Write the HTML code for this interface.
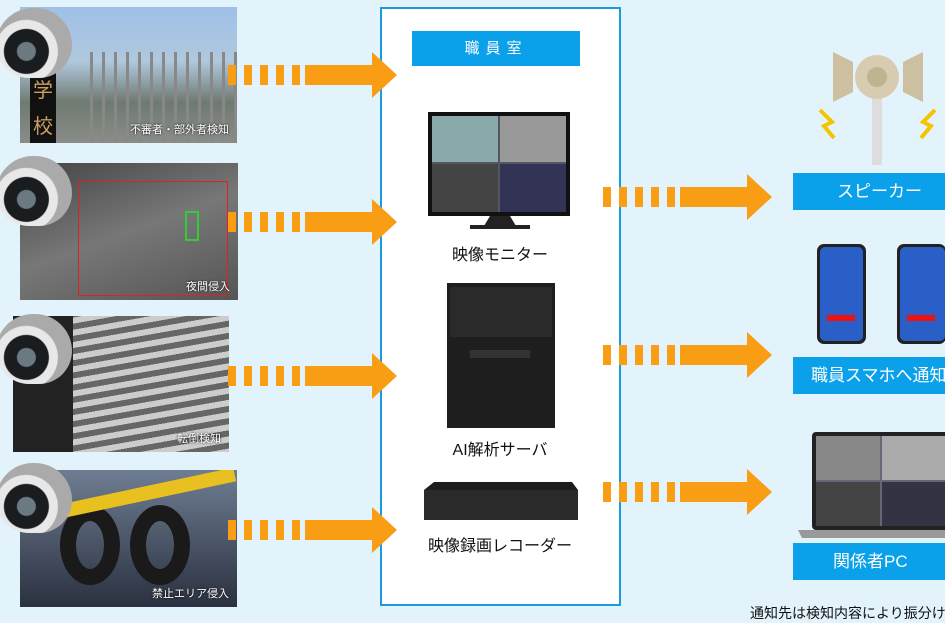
<!DOCTYPE html>
<html><head><meta charset="utf-8"><style>
*{margin:0;padding:0;box-sizing:border-box}
body{width:945px;height:612px;overflow:hidden;background:#e3f3fb;position:relative;font-family:"Liberation Sans","Noto Sans CJK JP",sans-serif}
.a{position:absolute}
.photo{position:absolute;overflow:hidden}
.cap{position:absolute;right:8px;bottom:6px;color:#fff;font-size:11px;text-shadow:0 0 2px #000}
.cam{position:absolute;width:76px;height:70px;border-radius:38px 38px 34px 34px;background:radial-gradient(circle at 40% 62%,#6a7a80 0 9px,#1a1d20 10px 22px,#e8e8e8 23px 31px,#aaa 32px)}
.lbl{position:absolute;left:793px;width:160px;height:37px;background:#0ba0ea;color:#fff;font-size:17px;line-height:37px;padding-left:18px;white-space:nowrap;overflow:hidden}
.ct{position:absolute;width:240px;left:380px;text-align:center;font-size:16px;color:#111}
</style></head><body>
<div class="a" style="left:380px;top:7px;width:241px;height:599px;background:#fff;border:2px solid #1a9be0"></div>
<div class="a" style="left:412px;top:31px;width:168px;height:35px;background:#0ba0ea;color:#fff;font-size:15px;line-height:35px;text-align:center;letter-spacing:6px">職員室</div>

<div class="photo" style="left:20px;top:7px;width:217px;height:136px;background:linear-gradient(#9fc0e8,#b0c8de 40%,#6f7a70 70%,#8a8d88)">
<div class="a" style="left:70px;top:45px;width:147px;height:91px;background:repeating-linear-gradient(90deg,#888 0 3px,transparent 3px 12px)"></div>
<div class="a" style="left:10px;top:60px;width:26px;height:76px;background:#111;color:#c9a060;font-size:20px;text-align:center;line-height:36px;padding-top:6px">学<br>校</div>
<div class="cap">不審者・部外者検知</div></div>
<div class="photo" style="left:20px;top:163px;width:218px;height:137px;background:linear-gradient(160deg,#444,#777 50%,#555)">
<div class="a" style="left:58px;top:18px;width:150px;height:115px;border:1px solid #d22"></div>
<div class="a" style="left:165px;top:48px;width:14px;height:30px;border:2px solid #3c3"></div>
<div class="cap">夜間侵入</div></div>
<div class="photo" style="left:13px;top:316px;width:216px;height:136px;background:repeating-linear-gradient(170deg,#ccc 0 6px,#666 6px 12px)">
<div class="a" style="left:0;top:0;width:60px;height:136px;background:#222"></div>
<div class="cap">転倒検知</div></div>
<div class="photo" style="left:20px;top:470px;width:217px;height:137px;background:linear-gradient(#6f7d92,#2a3140)">
<div class="a" style="left:40px;top:35px;width:60px;height:80px;border-radius:50%;border:16px solid #1a1a1a"></div>
<div class="a" style="left:110px;top:35px;width:60px;height:80px;border-radius:50%;border:16px solid #1a1a1a"></div>
<div class="a" style="left:0;top:20px;width:217px;height:14px;background:#e8c020;transform:rotate(-12deg)"></div>
<div class="cap">禁止エリア侵入</div></div>
<div class="cam" style="left:-4px;top:8px"></div>
<div class="cam" style="left:-4px;top:156px"></div>
<div class="cam" style="left:-4px;top:314px"></div>
<div class="cam" style="left:-4px;top:463px"></div>

<svg class="a" style="left:0;top:0" width="945" height="612">
<defs><g id="ar" fill="#f89d14"><rect x="0" y="-10" width="8" height="20"/><rect x="16" y="-10" width="8" height="20"/><rect x="32" y="-10" width="8" height="20"/><rect x="48" y="-10" width="8" height="20"/><rect x="64" y="-10" width="8" height="20"/><path d="M77 -10H144V-23L169 0 144 23V10H77Z"/></g></defs>
<use href="#ar" x="228" y="75"/><use href="#ar" x="228" y="222"/><use href="#ar" x="228" y="376"/><use href="#ar" x="228" y="530"/>
<use href="#ar" x="603" y="197"/><use href="#ar" x="603" y="355"/><use href="#ar" x="603" y="492"/>
<rect x="428" y="112" width="142" height="104" fill="#111"/>
<rect x="432" y="116" width="134" height="96" fill="#556"/>
<rect x="432" y="116" width="66" height="46" fill="#8aa"/><rect x="500" y="116" width="66" height="46" fill="#999"/>
<rect x="432" y="164" width="66" height="48" fill="#444"/><rect x="500" y="164" width="66" height="48" fill="#335"/>
<path d="M490 216h20l6 10h-32z" fill="#222"/><rect x="470" y="225" width="60" height="4" fill="#222"/>
<rect x="447" y="283" width="108" height="145" fill="#1e1e1e"/><rect x="450" y="287" width="102" height="50" fill="#2a2a2a"/>
<rect x="470" y="350" width="60" height="8" fill="#333"/>
<path d="M424 490l10-8h138l6 8v30h-154z" fill="#1d1d1d"/><rect x="424" y="490" width="154" height="30" fill="#2a2a2a"/>
<rect x="872" y="95" width="10" height="70" fill="#ddd"/>
<path d="M833 52l20 10v30l-20 10z M923 52l-20 10v30l20 10z" fill="#ccc0a0"/>
<circle cx="877" cy="77" r="22" fill="#d8ccb0"/><circle cx="877" cy="77" r="10" fill="#c0b390"/>
<path d="M820 110l12 12-8 4 10 12M935 110l-12 12 8 4-10 12" stroke="#f5c400" stroke-width="4" fill="none"/>
<rect x="817" y="244" width="49" height="100" rx="7" fill="#222"/><rect x="820" y="247" width="43" height="94" rx="5" fill="#2b5fc8"/><rect x="827" y="315" width="28" height="6" fill="#e11"/>
<rect x="897" y="244" width="49" height="100" rx="7" fill="#222"/><rect x="900" y="247" width="45" height="94" rx="5" fill="#2b5fc8"/><rect x="907" y="315" width="28" height="6" fill="#e11"/>
<rect x="812" y="432" width="140" height="98" rx="4" fill="#222"/><rect x="816" y="436" width="136" height="90" fill="#667"/>
<rect x="816" y="436" width="64" height="44" fill="#888"/><rect x="882" y="436" width="64" height="44" fill="#aaa"/><rect x="816" y="482" width="64" height="44" fill="#444"/><rect x="882" y="482" width="64" height="44" fill="#334"/>
<path d="M798 530h150v8h-146z" fill="#999"/>
</svg>
<div class="ct" style="top:241px">映像モニター</div>
<div class="ct" style="top:436px">AI解析サーバ</div>
<div class="ct" style="top:532px">映像録画レコーダー</div>
<div class="lbl" style="top:173px;padding-left:44px">スピーカー</div>
<div class="lbl" style="top:357px;padding-left:18px">職員スマホへ通知</div>
<div class="lbl" style="top:543px;padding-left:40px">関係者PC</div>
<div class="a" style="left:750px;top:603px;font-size:14px;color:#111;white-space:nowrap">通知先は検知内容により振分け</div>
</body></html>
